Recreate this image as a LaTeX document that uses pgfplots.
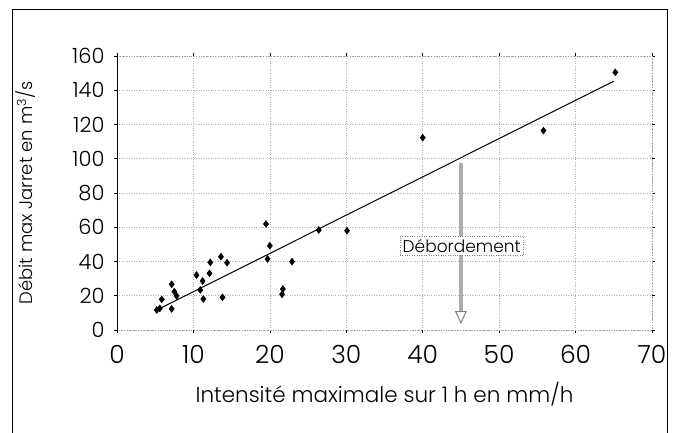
\documentclass[border=0pt]{standalone}
\usepackage{fontspec}
\setmainfont{Poppins}[UprightFont=* Light]
\usepackage{pgfplots}
\pgfplotsset{compat=1.18}
\usetikzlibrary{arrows.meta}
\begin{document}
\begin{tikzpicture}[x=1pt,y=1pt]
\useasboundingbox (0,0) rectangle (674,433);
\draw[black, line width=0.8pt] (12.5,-5) rectangle (667,423.5);
\begin{axis}[
    at={(117pt,103pt)}, anchor=south west,
    scale only axis,
    width=535pt, height=274pt,
    xmin=0, xmax=70, ymin=0, ymax=160,
    xtick={0,10,...,70}, ytick={0,20,...,160},
    grid=major,
    grid style={dotted, gray!60, line width=0.6pt},
    axis line style={dotted, gray!80, line width=0.8pt},
    tick align=outside, major tick length=3pt,
    tick style={black, line width=0.5pt},
    /pgf/number format/assume math mode=true,
    xticklabel style={font=\fontsize{25}{25}\selectfont, yshift=-9pt},
    yticklabel style={font=\fontsize{21}{21}\selectfont, xshift=-6pt},
    xlabel={Intensité maximale sur 1 h en mm/h},
    ylabel={Débit max Jarret en m\textsuperscript{3}/s},
    xlabel style={font=\fontsize{21.5}{21.5}\selectfont, yshift=-12pt},
    ylabel style={font=\fontsize{18}{18}\selectfont, yshift=30pt},
    clip=false,
]
\draw[black, line width=0.9pt] (axis cs:0,0) -- (axis cs:0,160);
% observations
\addplot[only marks, mark=diamond*, mark size=3.5pt, black] coordinates {
    (5.2,11.7) (5.6,12.6) (5.85,17.9) (7.15,12.3) (7.15,26.7) (7.5,22.4)
    (7.8,19.9) (10.4,32.1) (10.9,23.4) (11.2,28.6) (11.3,18.1) (12.1,33.1)
    (12.2,39.5) (13.6,42.8) (13.8,19.1) (14.4,39.3) (19.5,61.9) (20.0,49.2)
    (19.7,41.5) (22.9,39.9) (21.7,23.9) (21.6,20.8) (26.4,58.4) (30.1,58.0)
    (40.0,112.3) (55.8,116.4) (65.2,150.5)
};
% regression line
\addplot[black, line width=1pt] coordinates {(5,11.2) (65,145.3)};
% overflow arrow
\draw[gray!65, line width=3.5pt, -{Triangle[open, length=13pt, width=12pt, line width=1pt, color=gray]}]
    (axis cs:45,97.5) -- (axis cs:45,3.5);
\node[draw=gray, dotted, fill=white, inner sep=3pt, font=\fontsize{17}{17}\selectfont]
    at (axis cs:45.1,49.3) {Débordement};
\end{axis}
\end{tikzpicture}
\end{document}
